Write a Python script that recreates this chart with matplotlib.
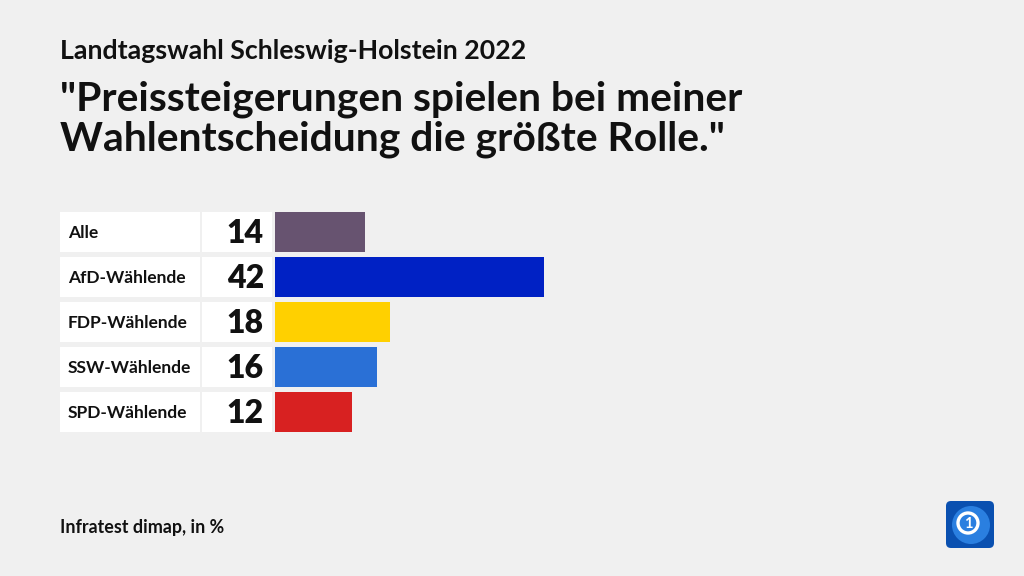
"""Horizontal bar chart: Preissteigerungen als wichtigstes Wahlthema (LTW SH 2022)."""
import matplotlib

matplotlib.use("Agg")
import matplotlib.pyplot as plt
from matplotlib.patches import Circle, FancyBboxPatch, Rectangle

# data
groups = ["Alle", "AfD-Wählende", "FDP-Wählende", "SSW-Wählende", "SPD-Wählende"]
values = [14, 42, 18, 16, 12]
colors = ["#675370", "#0021c4", "#ffd000", "#2a70d6", "#d82121"]

supertitle = "Landtagswahl Schleswig-Holstein 2022"
title = '"Preissteigerungen spielen bei meiner\nWahlentscheidung die größte Rolle."'
source = "Infratest dimap, in %"

W, H = 1024, 576
BG = "#f0f0f0"
FONT = ["Lato", "DejaVu Sans"]

# layout in pixels
PX_PER_UNIT = 6.4
X0 = 275          # zero of the value axis
LEFT = 60         # left edge of label boxes
TOP = 209.5       # top of first row
ROW = 45          # row pitch
BAR_H = 40 / ROW

fig = plt.figure(figsize=(W / 100, H / 100), dpi=100, facecolor=BG)

xmin = -(X0 - LEFT) / PX_PER_UNIT
xmax = (W - X0) / PX_PER_UNIT - 5
ax_w = (xmax - xmin) * PX_PER_UNIT
n = len(groups)
ax = fig.add_axes([LEFT / W, 1 - (TOP + n * ROW) / H, ax_w / W, n * ROW / H])
ax.set_xlim(xmin, xmax)
ax.set_ylim(n - 0.5, -0.5)
ax.axis("off")


def px(x):
    """Pixel x -> data x."""
    return (x - X0) / PX_PER_UNIT


for i, (g, v, c) in enumerate(zip(groups, values, colors)):
    y = i - BAR_H / 2
    ax.add_patch(Rectangle((px(LEFT), y), px(200) - px(LEFT), BAR_H, fc="white", ec="none"))
    ax.add_patch(Rectangle((px(202), y), px(272) - px(202), BAR_H, fc="white", ec="none"))
    ax.text(px(68), i + 0.02, g, ha="left", va="center", fontsize=12.5, fontweight="bold",
            family=FONT, color="#111111")
    ax.text(px(264), i + 0.03, str(v), ha="right", va="center", fontsize=23,
            fontweight="heavy", family=FONT, color="#111111")

ax.barh(range(n), values, height=BAR_H, color=colors, left=0)

fig.text(LEFT / W, 1 - 51 / H, supertitle, ha="left", va="center", fontsize=19.3,
         fontweight="bold", family=FONT, color="#111111")
fig.text(LEFT / W, 1 - 119 / H, title, ha="left", va="center", fontsize=29.4,
         fontweight="bold", family=FONT, color="#111111", linespacing=1.08)
fig.text(LEFT / W, 1 - 528 / H, source, ha="left", va="center", fontsize=12.9,
         fontweight="bold", family=FONT, color="#111111")

# logo
lax = fig.add_axes([0, 0, 1, 1], facecolor="none")
lax.set_xlim(0, W)
lax.set_ylim(H, 0)
lax.axis("off")
lax.add_patch(FancyBboxPatch((946, 501), 48, 47, boxstyle="round,pad=0,rounding_size=5",
                             fc="#0a50b0", ec="none"))
lax.add_patch(Circle((971, 525), 19, fc="#2a7fe0", ec="none"))
lax.add_patch(Circle((968, 523), 10, fc="none", ec="white", lw=2.4))
lax.text(968, 523.5, "1", ha="center", va="center", fontsize=10.5, fontweight="bold",
         color="white", family=FONT)

fig.savefig("out.png", dpi=100, facecolor=BG)
